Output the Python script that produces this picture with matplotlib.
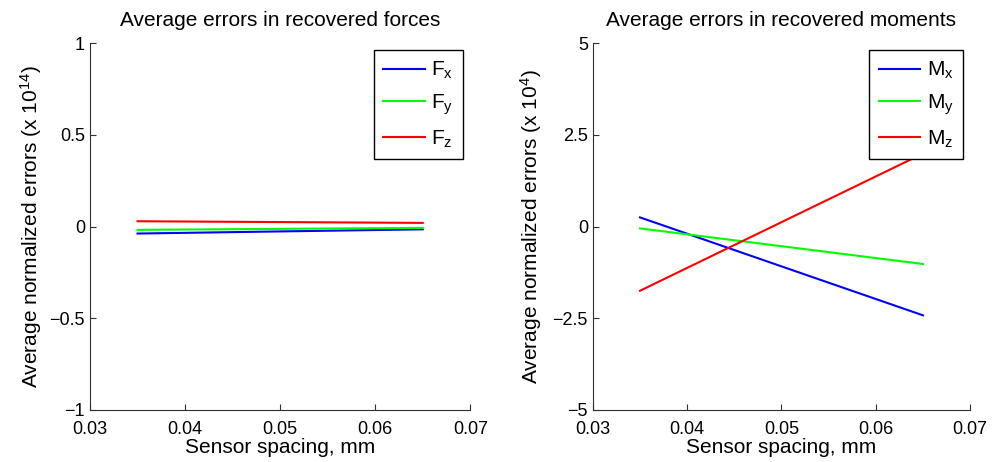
import matplotlib
matplotlib.use("Agg")
import matplotlib.pyplot as plt

plt.rcParams['font.family'] = ['Liberation Sans', 'DejaVu Sans']
plt.rcParams['mathtext.fontset'] = 'custom'
plt.rcParams['mathtext.rm'] = 'Liberation Sans'
plt.rcParams['mathtext.it'] = 'Liberation Sans'

# data
spacing = [0.035, 0.065]
fx = [-0.038, -0.015]
fy = [-0.018, -0.007]
fz = [0.029, 0.020]
mx = [0.25, -2.42]
my = [-0.05, -1.02]
mz = [-1.75, 1.99]

force_labels = [r'F$_\mathregular{x}$', r'F$_\mathregular{y}$', r'F$_\mathregular{z}$']
moment_labels = [r'M$_\mathregular{x}$', r'M$_\mathregular{y}$', r'M$_\mathregular{z}$']
colors = ['#0000ff', '#00ff00', '#ff0000']

fig = plt.figure(figsize=(9.93, 4.62), dpi=100)
ax1 = fig.add_axes([0.0906, 0.1126, 0.383, 0.794])
ax2 = fig.add_axes([0.597, 0.1126, 0.380, 0.794])


def style(ax):
    ax.spines['top'].set_visible(False)
    ax.spines['right'].set_visible(False)
    for s in ['left', 'bottom']:
        ax.spines[s].set_color('#303030')
        ax.spines[s].set_linewidth(0.8)
    ax.tick_params(direction='in', length=4, labelsize=13, color='#303030')
    ax.tick_params(axis='x', pad=8)
    ax.set_xlim(0.03, 0.07)
    ax.set_xticks([0.03, 0.04, 0.05, 0.06, 0.07])
    ax.set_xticklabels(['0.03', '0.04', '0.05', '0.06', '0.07'])
    ax.set_xlabel('Sensor spacing, mm', fontsize=15, labelpad=0)


for ys, lab, c in zip([fx, fy, fz], force_labels, colors):
    ax1.plot(spacing, ys, color=c, lw=1.5, label=lab)
style(ax1)
ax1.set_ylim(-1, 1)
ax1.set_yticks([-1, -0.5, 0, 0.5, 1])
ax1.set_yticklabels(['\u22121', '\u22120.5', '0', '0.5', '1'])
ax1.set_ylabel(r'Average normalized errors (x 10$^\mathregular{14}$)', fontsize=15, labelpad=4)
ax1.set_title('Average errors in recovered forces', fontsize=15, pad=12)

for ys, lab, c in zip([mx, my, mz], moment_labels, colors):
    ax2.plot(spacing, ys, color=c, lw=1.5, label=lab)
style(ax2)
ax2.set_ylim(-5, 5)
ax2.set_yticks([-5, -2.5, 0, 2.5, 5])
ax2.set_yticklabels(['\u22125', '\u22122.5', '0', '2.5', '5'])
ax2.set_ylabel(r'Average normalized errors (x 10$^\mathregular{4}$)', fontsize=15, labelpad=6)
ax2.set_title('Average errors in recovered moments', fontsize=15, pad=12)

for ax in [ax1, ax2]:
    leg = ax.legend(loc='upper right', fontsize=15, fancybox=False, framealpha=1,
                    edgecolor='black', handlelength=2.0, borderaxespad=0.35,
                    labelspacing=0.55, handletextpad=0.3, borderpad=0.45)
    leg.get_frame().set_linewidth(1.0)

fig.savefig('out.png', dpi=100)
